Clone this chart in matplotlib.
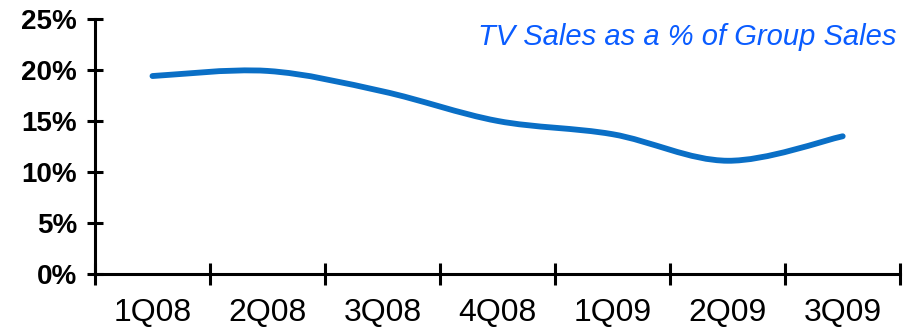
import numpy as np
import matplotlib.pyplot as plt
from matplotlib.path import Path
from matplotlib.patches import PathPatch

quarters = ["1Q08", "2Q08", "3Q08", "4Q08", "1Q09", "2Q09", "3Q09"]
tv_share = [19.4, 19.9, 17.9, 15.0, 13.7, 11.1, 13.5]
y_ticks = [0, 5, 10, 15, 20, 25]

LINE_COLOR = "#0A6FC6"
TITLE_COLOR = "#0A5CFF"

plt.rcParams["font.family"] = ["Liberation Sans", "DejaVu Sans"]


def smooth_path(xs, ys):
    # Catmull-Rom style bezier through every point (like a spreadsheet "smoothed line")
    pts = np.column_stack([xs, ys]).astype(float)
    verts = [pts[0]]
    codes = [Path.MOVETO]
    n = len(pts)
    for i in range(n - 1):
        p0 = pts[max(i - 1, 0)]
        p1 = pts[i]
        p2 = pts[i + 1]
        p3 = pts[min(i + 2, n - 1)]
        c1 = p1 + (p2 - p0) / 6.0
        c2 = p2 - (p3 - p1) / 6.0
        verts += [c1, c2, p2]
        codes += [Path.CURVE4] * 3
    return Path(verts, codes)


fig = plt.figure(figsize=(9.13, 3.31), dpi=100)
ax = fig.add_axes([0.104, 0.172, 0.882, 0.771])

x = np.arange(len(quarters))
path = smooth_path(x, tv_share)
ax.add_patch(PathPatch(path, facecolor="none", edgecolor=LINE_COLOR,
                       lw=4.2, capstyle="round", joinstyle="round"))

ax.set_xlim(-0.5, len(quarters) - 0.5)
ax.set_ylim(0, 25)

# category boundaries carry the tick marks, labels sit in the middle
ax.set_xticks(np.arange(-0.5, len(quarters), 1.0))
ax.set_xticklabels([])
ax.set_xticks(x, minor=True)
ax.set_xticklabels(quarters, minor=True, fontsize=23)
ax.tick_params(axis="x", which="major", direction="inout", length=16, width=2.2)
ax.tick_params(axis="x", which="minor", length=0, pad=17)

ax.set_yticks(y_ticks)
ax.set_yticklabels([f"{v}%" for v in y_ticks], fontsize=20, fontweight="bold")
ax.tick_params(axis="y", direction="inout", length=12, width=2.2, pad=7)

for side in ["top", "right"]:
    ax.spines[side].set_visible(False)
for side in ["left", "bottom"]:
    ax.spines[side].set_linewidth(2.2)

ax.text(0.995, 0.985, "TV Sales as a % of Group Sales", transform=ax.transAxes,
        ha="right", va="top", fontsize=21, style="italic", color=TITLE_COLOR)

fig.savefig("out.png", dpi=100)
